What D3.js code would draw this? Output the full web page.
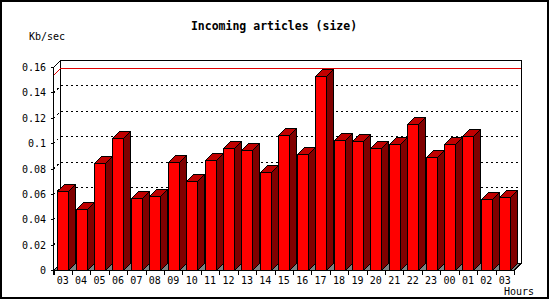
<!DOCTYPE html>
<html>
<head>
<meta charset="utf-8">
<script src="https://cdn.jsdelivr.net/npm/d3@7"></script>
<style>
  body { margin: 0; background: #fff; }
  text { font-family: "DejaVu Sans Mono", "Liberation Mono", monospace; fill: #000; }
</style>
</head>
<body>
<div id="chart"></div>
<script>

// chart data
var hours = ["03", "04", "05", "06", "07", "08", "09", "10", "11", "12", "13", "14", "15",
  "16", "17", "18", "19", "20", "21", "22", "23", "00", "01", "02", "03"];
var sizes = [0.0627, 0.0483, 0.0847, 0.1044, 0.0570, 0.0585, 0.0854, 0.0704, 0.0868, 0.0963,
  0.0949, 0.0773, 0.1065, 0.0915, 0.1535, 0.1028, 0.1018, 0.0965, 0.0997, 0.1155,
  0.0894, 0.0997, 0.1060, 0.0562, 0.0578];
var yTicks = [0, 0.02, 0.04, 0.06, 0.08, 0.1, 0.12, 0.14, 0.16];
var yTickLabels = ["0", "0.02", "0.04", "0.06", "0.08", "0.1", "0.12", "0.14", "0.16"];

var svgWidth = 550;
var svgHeight = 300;
var depth = 7;   // 3d offset, right and up
var barWidth = 11;

var svg = d3.select("#chart")
  .append("svg")
  .attr("width", svgWidth)
  .attr("height", svgHeight);

// outer frame
svg.append("rect")
  .attr("x", 1).attr("y", 1)
  .attr("width", 547).attr("height", 297)
  .attr("fill", "#fff")
  .attr("stroke", "#000")
  .attr("stroke-width", 2);

// scales
// ==============================
var xScale = d3.scaleBand()
  .domain(d3.range(hours.length))
  .range([53.5, 514])
  .padding(0);

var yScale = d3.scaleLinear()
  .domain([0, 0.16])
  .range([270.5, 67.5]);

var x0 = xScale.range()[0];
var x1 = xScale.range()[1];
var yBot = yScale(0);
var yTop = yScale(0.16);

var g = svg.append("g").attr("shape-rendering", "crispEdges");

// back wall and left side wall
g.append("rect")
  .attr("x", x0 + depth).attr("y", yTop - depth)
  .attr("width", x1 - x0).attr("height", yBot - yTop)
  .attr("fill", "#fff").attr("stroke", "#000");

g.append("polygon")
  .attr("points", [[x0, yTop], [x0 + depth, yTop - depth], [x0 + depth, yBot - depth], [x0, yBot]].join(" "))
  .attr("fill", "#fff").attr("stroke", "#000");

// grid lines, back wall + side wall
var gridTicks = yTicks.filter(d => d > 0 && d < 0.16);
g.selectAll(".grid")
  .data(gridTicks)
  .enter()
  .append("line")
  .attr("x1", x0 + depth).attr("x2", x1 + depth)
  .attr("y1", d => yScale(d) - depth).attr("y2", d => yScale(d) - depth)
  .attr("stroke", "#000")
  .attr("stroke-dasharray", "2,3");

g.selectAll(".gridSide")
  .data(gridTicks)
  .enter()
  .append("line")
  .attr("x1", x0).attr("x2", x0 + depth)
  .attr("y1", d => yScale(d)).attr("y2", d => yScale(d) - depth)
  .attr("stroke", "#000")
  .attr("stroke-dasharray", "2,3");

// max line in red
var maxVal = d3.max(sizes);
g.append("polyline")
  .attr("points", [[x0, yScale(maxVal)], [x0 + depth, yScale(maxVal) - depth], [x1 + depth, yScale(maxVal) - depth]].join(" "))
  .attr("fill", "none")
  .attr("stroke", "#e00000");

// floor
g.append("polygon")
  .attr("points", [[x0, yBot], [x0 + depth, yBot - depth], [x1 + depth, yBot - depth], [x1, yBot]].join(" "))
  .attr("fill", "#808080").attr("stroke", "#000");

// bars
// ==============================
var bars = g.selectAll(".bar")
  .data(sizes)
  .enter()
  .append("g");

function bx(i) {
  return Math.round(xScale(i) + (xScale.bandwidth() - barWidth) / 2) + 0.5;
}

bars.append("polygon")  // top
  .attr("points", (d, i) => {
    var x = bx(i), y = Math.round(yScale(d)) + 0.5;
    return [[x, y], [x + depth, y - depth], [x + barWidth + depth, y - depth], [x + barWidth, y]].join(" ");
  })
  .attr("fill", "#c00000").attr("stroke", "#000");

bars.append("polygon")  // side
  .attr("points", (d, i) => {
    var x = bx(i) + barWidth, y = Math.round(yScale(d)) + 0.5;
    return [[x, y], [x + depth, y - depth], [x + depth, yBot - depth], [x, yBot]].join(" ");
  })
  .attr("fill", "#800000").attr("stroke", "#000");

bars.append("rect")  // front
  .attr("x", (d, i) => bx(i))
  .attr("y", d => Math.round(yScale(d)) + 0.5)
  .attr("width", barWidth)
  .attr("height", d => yBot - Math.round(yScale(d)) - 0.5)
  .attr("fill", "#ff0000").attr("stroke", "#000");

// right wall edge
g.append("line")
  .attr("x1", x1 + depth).attr("x2", x1 + depth)
  .attr("y1", yTop - depth).attr("y2", yBot - depth)
  .attr("stroke", "#000");

// axes
// ==============================
g.append("line")
  .attr("x1", x0).attr("x2", x0)
  .attr("y1", yTop).attr("y2", yBot + 4)
  .attr("stroke", "#000");

g.append("line")
  .attr("x1", x0).attr("x2", x1)
  .attr("y1", yBot).attr("y2", yBot)
  .attr("stroke", "#000");

g.selectAll(".ytick")
  .data(yTicks)
  .enter()
  .append("line")
  .attr("x1", x0 - 3).attr("x2", x0)
  .attr("y1", d => yScale(d)).attr("y2", d => yScale(d))
  .attr("stroke", "#000");

g.selectAll(".xtick")
  .data(d3.range(hours.length + 1))
  .enter()
  .append("line")
  .attr("x1", i => Math.round(x0 + i * xScale.step()) + 0.5)
  .attr("x2", i => Math.round(x0 + i * xScale.step()) + 0.5)
  .attr("y1", yBot).attr("y2", yBot + 4)
  .attr("stroke", "#000");

svg.selectAll(".ylabel")
  .data(yTicks)
  .enter()
  .append("text")
  .attr("x", 46)
  .attr("y", d => yScale(d) + 3.5)
  .attr("text-anchor", "end")
  .attr("font-size", "10px")
  .text((d, i) => yTickLabels[i]);

svg.selectAll(".xlabel")
  .data(hours)
  .enter()
  .append("text")
  .attr("x", (d, i) => xScale(i) + xScale.bandwidth() / 2)
  .attr("y", 284)
  .attr("text-anchor", "middle")
  .attr("font-size", "10px")
  .text(d => d);

// titles
svg.append("text")
  .attr("x", 274)
  .attr("y", 30)
  .attr("text-anchor", "middle")
  .attr("font-size", "11.5px")
  .attr("font-weight", "bold")
  .text("Incoming articles (size)");

svg.append("text")
  .attr("x", 29)
  .attr("y", 40)
  .attr("font-size", "10px")
  .text("Kb/sec");

svg.append("text")
  .attr("x", 534)
  .attr("y", 295)
  .attr("text-anchor", "end")
  .attr("font-size", "10px")
  .text("Hours");

</script>
</body>
</html>
